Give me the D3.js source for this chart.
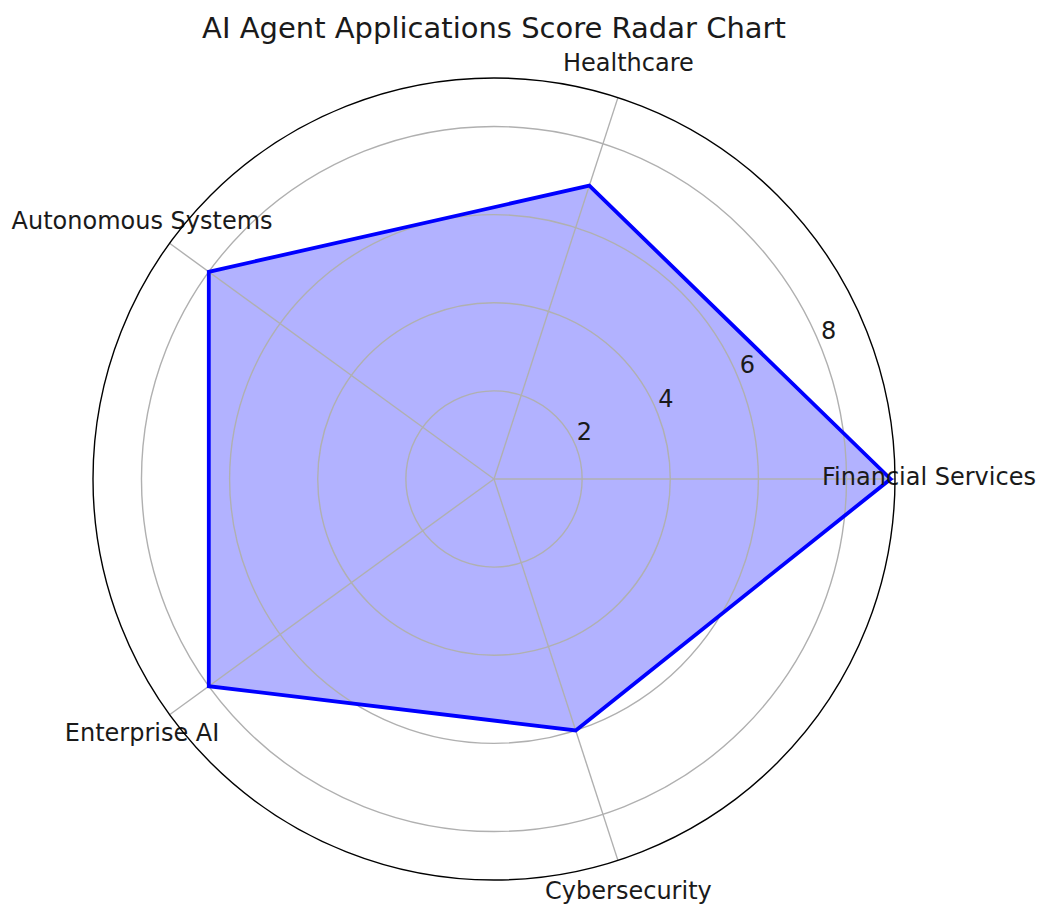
<!DOCTYPE html>
<html><head><meta charset="utf-8">
<script src="https://cdn.jsdelivr.net/npm/d3@7"></script>
<style>body{margin:0;background:#fff}svg{display:block}text{font-family:"DejaVu Sans",sans-serif;fill:#1a1a1a}</style>
</head><body>
<svg id="c" width="1040" height="905"></svg>
<script>
const categories = ["Financial Services","Healthcare","Autonomous Systems","Enterprise AI","Cybersecurity"];
const scores = [9, 7, 8, 8, 6];
const radialTicks = [2, 4, 6, 8];
const title = "AI Agent Applications Score Radar Chart";

const svg = d3.select("#c");
const cx = 494, cy = 479, R = 401;
const r = d3.scaleLinear().domain([0, 9.1]).range([0, R]);
const ang = d3.scaleLinear().domain([0, categories.length]).range([0, 2*Math.PI]);
const pt = (a, rad) => [cx + rad*Math.cos(a), cy - rad*Math.sin(a)];

const g = svg.append("g");
const pts = scores.map((v,i) => pt(ang(i), r(v)));
// fill
g.append("polygon").attr("points", pts.map(p => p.join(",")).join(" "))
  .attr("fill","rgba(0,0,255,0.3)").attr("stroke","none");
// grid circles
g.selectAll("circle.grid").data(radialTicks).join("circle")
  .attr("cx", cx).attr("cy", cy).attr("r", d => r(d))
  .attr("fill","none").attr("stroke","#b0b0b0").attr("stroke-width",1.4);
// spokes
g.selectAll("line.spoke").data(categories).join("line")
  .attr("x1", cx).attr("y1", cy)
  .attr("x2", (d,i) => pt(ang(i), R)[0]).attr("y2", (d,i) => pt(ang(i), R)[1])
  .attr("stroke","#b0b0b0").attr("stroke-width",1.4);
// outline
g.append("polygon").attr("points", pts.map(p => p.join(",")).join(" "))
  .attr("fill","none").attr("stroke","#0000ff").attr("stroke-width",3.8)
  .attr("stroke-linejoin","miter");
// radial labels
const rl = 22.5*Math.PI/180;
g.selectAll("text.rl").data(radialTicks).join("text")
  .attr("x", d => pt(rl, r(d))[0] + 9).attr("y", d => pt(rl, r(d))[1] - 13)
  .attr("text-anchor","middle").attr("dominant-baseline","central")
  .attr("font-size", 24).text(d => d);
// category labels
g.selectAll("text.cat").data(categories).join("text")
  .attr("x", (d,i) => pt(ang(i), R + 34)[0]).attr("y", (d,i) => pt(ang(i), R + 34)[1] - 2)
  .attr("text-anchor","middle").attr("dominant-baseline","central")
  .attr("font-size", 24).text(d => d);
// outer spine
g.append("circle").attr("cx",cx).attr("cy",cy).attr("r",R)
  .attr("fill","none").attr("stroke","#000").attr("stroke-width",1.4);
// title
svg.append("text").attr("x", cx).attr("y", 38).attr("text-anchor","middle")
  .attr("font-size", 29).text(title);
</script>
</body></html>
